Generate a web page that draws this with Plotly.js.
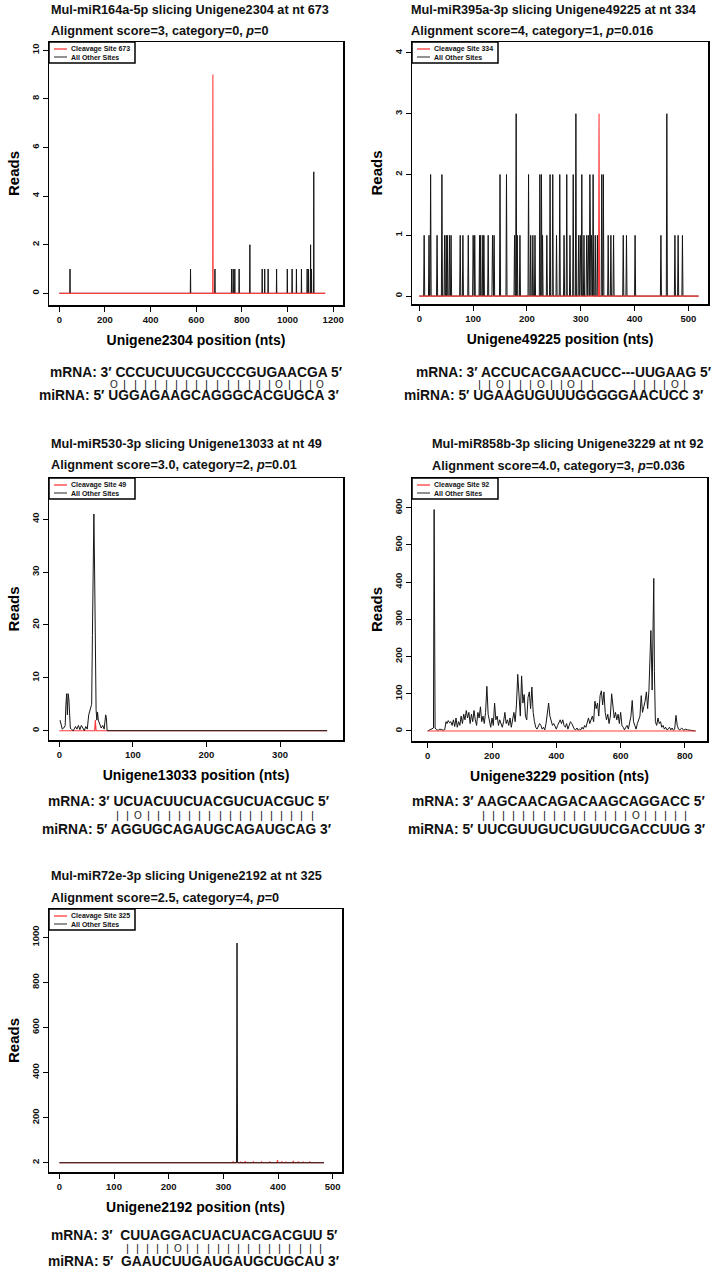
<!DOCTYPE html>
<html><head><meta charset="utf-8">
<script src="https://cdn.plot.ly/plotly-3.0.1.min.js"></script>
<style>html,body{margin:0;padding:0;background:#fff}</style>
</head><body><div id="chart" style="width:719px;height:1279px"></div>
<script>
// ---------------- DATA ----------------
// Panel 1: Mul-miR164a-5p / Unigene2304
const p1Length = 1165;
const p1Sites = [47, 575, 682, 755, 762, 769, 788, 835, 889, 900, 915, 952, 999, 1020, 1039, 1061, 1086, 1092, 1101, 1105, 1115];
const p1Reads = [1, 1, 1, 1, 1, 1, 1, 2, 1, 1, 1, 1, 1, 1, 1, 1, 1, 1, 2, 1, 5];
const p1CleaveSite = [673];
const p1CleaveReads = [9];
const p1Seq = {mRNA: "CCCUCUUCGUCCCGUGAACGA", miRNA: "UGGAGAAGCAGGGCACGUGCA", pairs: "O|||||||||||||||O|||O"};

// Panel 2: Mul-miR395a-3p / Unigene49225
const p2Length = 519;
const p2Sites = [9, 18, 21, 33, 42, 47, 50, 52, 56, 59, 76, 81, 91, 100, 103, 112, 114, 118, 120, 128, 136, 139, 150, 162, 177, 180, 182, 187, 203, 207, 211, 215, 224, 227, 229, 237, 243, 248, 255, 261, 269, 274, 280, 286, 291, 296, 299, 302, 306, 311, 314, 317, 320, 323, 327, 331, 339, 342, 351, 356, 361, 379, 385, 401, 449, 460, 475, 481, 489];
const p2Reads = [1, 1, 2, 1, 2, 1, 1, 1, 1, 1, 1, 1, 1, 1, 1, 1, 1, 1, 1, 1, 1, 1, 2, 2, 1, 3, 1, 1, 2, 1, 1, 1, 2, 2, 1, 1, 2, 2, 1, 2, 1, 2, 1, 2, 3, 1, 1, 2, 1, 1, 1, 2, 1, 2, 1, 1, 2, 2, 1, 1, 1, 1, 1, 1, 1, 3, 1, 1, 1];
const p2CleaveSite = [334];
const p2CleaveReads = [3];
const p2Seq = {mRNA: "ACCUCACGAACUCC---UUGAAG", miRNA: "UGAAGUGUUUGGGGGAACUCC", pairs: "||O|||O||O||   ||||O|"};

// Panel 3: Mul-miR530-3p / Unigene13033
const p3Pos   = [1, 2, 4, 6, 8, 9, 10, 11, 12, 13, 14, 15, 17, 19, 22, 24, 26, 28, 30, 32, 34, 36, 38, 40, 42, 44, 45, 46, 47, 48, 49, 50, 51, 52, 53, 55, 57, 59, 61, 63, 64, 65, 364];
const p3Reads = [2, 1.5, 0.3, 0.5, 1, 5, 7, 3, 7, 6, 1, 0.5, 0.2, 0, 0.8, 0.3, 1, 0.2, 1, 0.5, 0, 0.8, 0.3, 3, 4, 5, 18, 40, 41, 30, 12, 4, 2, 3.5, 2, 1, 0.5, 1, 0.3, 3, 2.5, 0, 0];
const p3Length = 364;
const p3CleaveSite = [49];
const p3CleaveReads = [2];
const p3Seq = {mRNA: "UCUACUUCUACGUCUACGUC", miRNA: "AGGUGCAGAUGCAGAUGCAG", pairs: "||O|||||||||||||||||"};

// Panel 4: Mul-miR858b-3p / Unigene3229
const p4Pos = [0, 5, 10, 15, 18, 20, 21, 23, 28, 33, 38, 43, 48, 53, 57, 60, 64, 68, 72, 76, 80, 84, 88, 92, 96, 100, 104, 108, 112, 116, 120, 124, 128, 132, 136, 140, 144, 148, 152, 156, 160, 164, 168, 172, 176, 180, 184, 188, 192, 196, 200, 204, 208, 212, 216, 220, 224, 228, 232, 236, 240, 244, 248, 252, 256, 260, 264, 268, 272, 276, 280, 284, 288, 292, 296, 300, 304, 308, 312, 316, 320, 324, 328, 332, 336, 340, 344, 348, 352, 356, 360, 364, 368, 372, 376, 380, 384, 388, 392, 396, 400, 404, 408, 412, 416, 420, 424, 428, 432, 436, 440, 444, 448, 452, 456, 460, 464, 468, 472, 476, 480, 484, 488, 492, 496, 500, 504, 508, 512, 516, 520, 524, 528, 532, 536, 540, 544, 548, 552, 556, 560, 564, 568, 572, 576, 580, 584, 588, 592, 596, 600, 604, 608, 612, 616, 620, 624, 628, 632, 636, 640, 644, 648, 652, 656, 660, 664, 668, 672, 676, 680, 684, 688, 694, 698, 703, 705, 708, 712, 716, 720, 724, 728, 732, 736, 740, 744, 748, 752, 756, 760, 764, 768, 772, 776, 780, 784, 790, 796, 802, 808, 814, 820, 826, 833];
const p4Reads = [0, 2, 3, 5, 8, 595, 265, 8, 3, 2, 5, 3, 2, 4, 25, 20, 28, 22, 25, 15, 30, 12, 35, 10, 25, 15, 40, 20, 45, 30, 55, 35, 50, 20, 45, 25, 55, 30, 15, 50, 35, 65, 25, 40, 20, 50, 120, 45, 30, 10, 35, 15, 75, 30, 40, 15, 30, 20, 10, 25, 50, 20, 30, 15, 35, 10, 30, 50, 25, 70, 152, 95, 40, 148, 75, 98, 40, 30, 90, 105, 60, 118, 50, 25, 10, 5, 15, 20, 15, 5, 10, 3, 20, 45, 75, 40, 30, 15, 20, 10, 5, 15, 25, 30, 20, 30, 15, 10, 20, 5, 15, 25, 20, 10, 5, 3, 8, 2, 5, 3, 10, 5, 15, 10, 25, 35, 20, 30, 40, 25, 80, 60, 75, 40, 95, 108, 70, 105, 50, 30, 45, 20, 40, 100, 55, 35, 50, 30, 45, 20, 50, 15, 10, 3, 10, 15, 5, 20, 40, 82, 25, 15, 5, 20, 30, 40, 95, 50, 65, 80, 105, 60, 110, 270, 110, 410, 160, 25, 15, 35, 20, 25, 10, 15, 5, 10, 3, 5, 10, 3, 8, 2, 5, 42, 15, 5, 3, 8, 2, 5, 3, 2, 3, 1, 0];
const p4Length = 833;
const p4CleaveSite = [92];
const p4CleaveReads = [0];
const p4Seq = {mRNA: "AAGCAACAGACAAGCAGGACC", miRNA: "UUCGUUGUCUGUUCGACCUUG", pairs: "|||||||||||||||O|||||"};

// Panel 5: Mul-miR72e-3p / Unigene2192
const p5Length = 484;
const p5Sites = [325];
const p5Reads = [975];
const p5RedSites = [318, 332, 340, 355, 370, 385, 399, 407, 414, 428, 437, 446, 458];
const p5RedReads = [6, 5, 7, 4, 4, 4, 12, 6, 5, 8, 6, 5, 4];
const p5Seq = {mRNA: "CUUAGGACUACUACGACGUU", miRNA: "GAAUCUUGAUGAUGCUGCAU", pairs: "|||||O||||||||||||||"};
const p5YTickVals = [0, 200, 400, 600, 800, 1000];
const p5YTickText = ["2", "200", "400", "600", "800", "1000"];

// Texts
const titles1 = ["Mul-miR164a-5p slicing Unigene2304 at nt 673", "Mul-miR395a-3p slicing Unigene49225 at nt 334", "Mul-miR530-3p slicing Unigene13033 at nt 49", "Mul-miR858b-3p slicing Unigene3229 at nt 92", "Mul-miR72e-3p slicing Unigene2192 at nt 325"];
const titles2 = ["Alignment score=3, category=0, <i>p</i>=0", "Alignment score=4, category=1, <i>p</i>=0.016", "Alignment score=3.0, category=2, <i>p</i>=0.01", "Alignment score=4.0, category=3, <i>p</i>=0.036", "Alignment score=2.5, category=4, <i>p</i>=0"];
const xTitles = ["Unigene2304 position (nts)", "Unigene49225 position (nts)", "Unigene13033 position (nts)", "Unigene3229 position (nts)", "Unigene2192 position (nts)"];
const cleaveLabels = ["Cleavage Site 673", "Cleavage Site 334", "Cleavage Site 49", "Cleavage Site 92", "Cleavage Site 325"];
const otherLabel = "All Other Sites";
const yTitle = "Reads";

// ---------------- BUILD ----------------
const W = 719, H = 1279;
const FONT = 'Liberation Sans, Arial, Helvetica, sans-serif';
const fx = v => v / W, fy = v => 1 - v / H;
const RED = '#ff3b3b', BLACK = '#151515';

function spikeLine(len, sites, reads) {
  const pts = [[0, 0], [len, 0]];
  sites.forEach((s, i) => { pts.push([s - 1, 0], [s, reads[i]], [s + 1, 0]); });
  pts.sort((a, b) => a[0] - b[0]);
  return {x: pts.map(p => p[0]), y: pts.map(p => p[1])};
}

const black = [
  spikeLine(p1Length, p1Sites, p1Reads),
  spikeLine(p2Length, p2Sites, p2Reads),
  {x: p3Pos, y: p3Reads},
  {x: p4Pos, y: p4Reads},
  spikeLine(p5Length, p5Sites, p5Reads)
];
const red = [
  spikeLine(p1Length, p1CleaveSite, p1CleaveReads),
  spikeLine(p2Length, p2CleaveSite, p2CleaveReads),
  spikeLine(p3Length, p3CleaveSite, p3CleaveReads),
  spikeLine(p4Length, p4CleaveSite, p4CleaveReads),
  spikeLine(p5Length, p5RedSites, p5RedReads)
];
const seqs = [p1Seq, p2Seq, p3Seq, p4Seq, p5Seq];

// layout geometry (pixels)
const geo = [
  {box: [49, 42, 343, 305], xr: [-45, 1243], yr: [-0.48, 10.34], xt: [0, 200, 400, 600, 800, 1000, 1200], yt: [0, 2, 4, 6, 8, 10], tx: 49, ty: [10, 31], tyl: [372, 384, 396], mL: 51, miL: 40, sp: ' ', redTop: true},
  {box: [412, 42, 708, 304], xr: [-13.6, 536.5], yr: [-0.13, 4.18], xt: [0, 100, 200, 300, 400, 500], yt: [0, 1, 2, 3, 4], tx: 409, ty: [10, 31], tyl: [372, 384, 396], mL: 417, miL: 405, sp: ' ', redTop: true},
  {box: [49, 478, 343, 740], xr: [-14, 385.6], yr: [-1.76, 47.8], xt: [0, 100, 200, 300], yt: [0, 10, 20, 30, 40], tx: 49, ty: [444, 465], tyl: [802, 815, 829], mL: 49, miL: 43, sp: ' ', redTop: false},
  {box: [412, 478, 707, 741], xr: [-48.8, 868.5], yr: [-26.9, 679.8], xt: [0, 200, 400, 600, 800], yt: [0, 100, 200, 300, 400, 500, 600], tx: 430, ty: [444, 466], tyl: [802, 815, 829], mL: 413, miL: 409, sp: ' ', redTop: true},
  {box: [49, 909, 342, 1172], xr: [-18.9, 517], yr: [-41, 1126], xt: [0, 100, 200, 300, 400, 500], yt: p5YTickVals, ytt: p5YTickText, tx: 49, ty: [876, 898], tyl: [1235, 1248, 1261], mL: 52, miL: 49, sp: '\u00a0\u00a0', redTop: false}
];

const SEQ_PX = 13.8;
const ctx = document.createElement('canvas').getContext('2d');
ctx.font = 'bold ' + SEQ_PX + 'px "Liberation Sans"';
const mw = s => ctx.measureText(s).width;

const traces = [];
const layout = {
  width: W, height: H, margin: {l: 0, r: 0, t: 0, b: 0},
  paper_bgcolor: '#fff', plot_bgcolor: '#fff', showlegend: false,
  font: {family: FONT, color: '#000'},
  annotations: [], shapes: []
};
const tickFont = {family: FONT, size: 9.5, color: '#111', weight: 'bold'};

geo.forEach((g, i) => {
  const s = i === 0 ? '' : String(i + 1);
  const [l, t, r, b] = g.box;
  layout['xaxis' + s] = {
    domain: [fx(l), fx(r)], range: g.xr, anchor: 'y' + s,
    tickmode: 'array', tickvals: g.xt, ticks: 'outside', ticklen: 5, tickwidth: 1, tickcolor: '#000',
    showline: true, mirror: true, linecolor: '#000', linewidth: 1.5,
    showgrid: false, zeroline: false, tickfont: tickFont, fixedrange: true,
    title: {text: xTitles[i], font: {family: FONT, size: 14, weight: 'bold', color: '#000'}, standoff: 11}
  };
  layout['yaxis' + s] = {
    domain: [fy(b), fy(t)], range: g.yr, anchor: 'x' + s,
    tickmode: 'array', tickvals: g.yt, ticktext: g.ytt || g.yt.map(String),
    tickangle: -90, ticks: 'outside', ticklen: 5, tickwidth: 1, tickcolor: '#000',
    showline: true, mirror: true, linecolor: '#000', linewidth: 1.5,
    showgrid: false, zeroline: false, tickfont: tickFont, fixedrange: true,
    title: {text: yTitle, font: {family: FONT, size: 15, weight: 'bold', color: '#000'}, standoff: 6}
  };
  const tb = {type: 'scatter', mode: 'lines', x: black[i].x, y: black[i].y, xaxis: 'x' + s, yaxis: 'y' + s,
    name: otherLabel, line: {color: BLACK, width: 1}, hoverinfo: 'skip'};
  const tr = {type: 'scatter', mode: 'lines', x: red[i].x, y: red[i].y, xaxis: 'x' + s, yaxis: 'y' + s,
    name: cleaveLabels[i], line: {color: RED, width: 1.1}, hoverinfo: 'skip'};
  if (g.redTop) traces.push(tb, tr); else traces.push(tr, tb);

  // panel titles
  [titles1[i], titles2[i]].forEach((txt, k) => {
    layout.annotations.push({xref: 'paper', yref: 'paper', x: fx(g.tx), y: fy(g.ty[k]), xanchor: 'left', yanchor: 'middle',
      text: txt, showarrow: false, font: {family: FONT, size: 12.7, weight: 'bold', color: '#111'}});
  });

  // legend box
  const lw = 86, lh = 21;
  layout.shapes.push({type: 'rect', xref: 'paper', yref: 'paper', x0: fx(l), x1: fx(l + lw), y0: fy(t), y1: fy(t + lh),
    line: {color: '#000', width: 1.5}, fillcolor: '#fff'});
  [[RED, cleaveLabels[i], 7], ['#555', otherLabel, 15]].forEach(([c, txt, dy]) => {
    layout.shapes.push({type: 'line', xref: 'paper', yref: 'paper', x0: fx(l + 5), x1: fx(l + 18), y0: fy(t + dy), y1: fy(t + dy),
      line: {color: c, width: 1.3}});
    layout.annotations.push({xref: 'paper', yref: 'paper', x: fx(l + 20), y: fy(t + dy), xanchor: 'left', yanchor: 'middle',
      text: txt, showarrow: false, font: {family: FONT, size: 7, weight: 'bold', color: '#111'}});
  });

  // alignment text
  const sq = seqs[i];
  const seqFont = {family: FONT, size: SEQ_PX, weight: 'bold', color: '#111'};
  const mPre = 'mRNA: 3′' + g.sp, miPre = 'miRNA: 5′' + g.sp;
  layout.annotations.push({xref: 'paper', yref: 'paper', x: fx(g.mL - 2), y: fy(g.tyl[0]), xanchor: 'left', yanchor: 'middle',
    text: mPre + sq.mRNA + ' 5′', showarrow: false, font: seqFont, borderpad: 0});
  layout.annotations.push({xref: 'paper', yref: 'paper', x: fx(g.miL - 2), y: fy(g.tyl[2]), xanchor: 'left', yanchor: 'middle',
    text: miPre + sq.miRNA + ' 3′', showarrow: false, font: seqFont, borderpad: 0});

  // pairing symbols as text, one per miRNA column
  const mi = sq.miRNA;
  for (let k = 0; k < sq.pairs.length && k < mi.length; k++) {
    const ch = sq.pairs[k];
    if (ch === ' ') continue;
    const cx = g.miL + mw(miPre + mi.slice(0, k)) + mw(mi[k]) / 2;
    layout.annotations.push({xref: 'paper', yref: 'paper', x: fx(cx), y: fy(g.tyl[1]), xanchor: 'center', yanchor: 'middle',
      text: ch, showarrow: false, borderpad: 0,
      font: {family: FONT, size: ch === 'O' ? 10 : 11.5, color: '#222'}});
  }
});

Plotly.newPlot('chart', traces, layout, {staticPlot: true, displayModeBar: false});
</script></body></html>
